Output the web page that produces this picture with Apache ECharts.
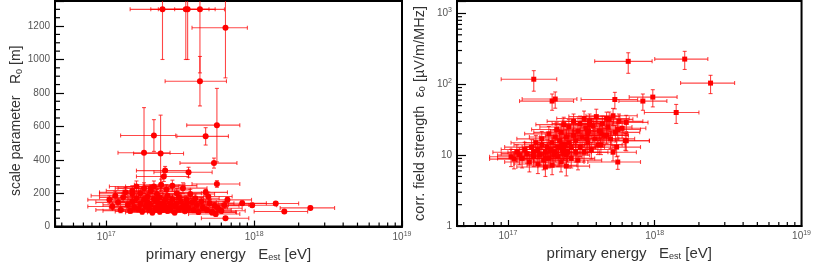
<!DOCTYPE html>
<html><head><meta charset="utf-8">
<script src="https://cdn.jsdelivr.net/npm/echarts@6/dist/echarts.min.js"></script>
<style>html,body{margin:0;padding:0;background:#fff}#c{width:814px;height:267px}</style>
</head><body><div id="c"></div><script>
// primary energy in units of 1e17 eV (same events in both panels)
const energyE17 = [2.4,3.45,3.55,4.3,6.4,4.3,5.6,4.7,2.1,1.8,2.33,5.35,2.5,3.6,5.6,6.6,9.7,8.3,14,16,24,6.4,5.2,4.7,1.5,2.0,
 1.05,1.1,1.15,1.2,1.25,1.3,1.35,1.4,1.45,1.5,1.5,1.55,1.6,1.6,1.65,1.7,1.7,1.75,1.8,1.8,1.85,1.9,1.9,1.95,2.0,2.0,2.05,
 2.1,2.1,2.15,2.2,2.2,2.25,2.3,2.3,2.35,2.4,2.4,2.45,2.5,2.5,2.55,2.6,2.6,2.7,2.7,2.8,2.8,2.9,2.9,3.0,3.0,3.1,3.1,
 3.2,3.3,3.3,3.4,3.5,3.5,3.6,3.7,3.8,3.9,4.0,4.1,4.2,4.4,4.5,4.9,4.8,5.0,5.2,5.4,5.7,6.0,6.3,5.5];
// energy uncertainty [down, up] in units of 1e17 eV
const energyErrE17 = [[0.95,1.2],[1.45,1.5],[1.3,1.9],[1.4,2.0],[2.6,2.6],[1.8,2.2],[2.1,2.4],[1.7,2.0],[0.85,0.85],[0.6,0.9],
 [0.8,1.0],[2.2,2.3],[0.9,1.1],[1.5,1.6],[1.8,2.4],[2.7,3.0],[3.0,4.5],[2.6,3.8],[5.5,6],[6,7],[9,11],[2.0,2.8],[1.7,2.3],
 [1.6,1.9],[0.6,0.65],[0.8,0.8],
 [0.3,0.45],[0.35,0.4],[0.36,0.5],[0.35,0.55],[0.4,0.5],[0.4,0.6],[0.45,0.6],[0.45,0.55],[0.5,0.65],[0.5,0.7],
 [0.45,0.6],[0.5,0.7],[0.55,0.75],[0.5,0.65],[0.55,0.7],[0.6,0.8],[0.55,0.75],[0.6,0.8],[0.6,0.8],[0.65,0.85],
 [0.6,0.8],[0.65,0.85],[0.6,0.9],[0.65,0.85],[0.7,0.9],[0.65,0.95],[0.7,0.9],[0.7,0.95],[0.75,1.0],[0.7,0.95],
 [0.75,1.0],[0.8,1.0],[0.75,1.05],[0.8,1.0],[0.8,1.1],[0.8,1.05],[0.85,1.1],[0.8,1.1],[0.85,1.15],[0.9,1.1],
 [0.85,1.2],[0.9,1.15],[0.9,1.2],[0.95,1.2],[0.95,1.2],[0.9,1.25],[1.0,1.3],[0.95,1.25],[1.0,1.3],[1.0,1.35],
 [1.05,1.4],[1.0,1.35],[1.1,1.4],[1.05,1.45],[1.1,1.5],[1.15,1.5],[1.1,1.5],[1.2,1.55],[1.2,1.6],[1.25,1.6],
 [1.25,1.65],[1.3,1.7],[1.3,1.75],[1.35,1.8],[1.4,1.8],[1.4,1.9],[1.45,1.9],[1.5,2.0],[1.55,2.1],[1.7,2.2],
 [1.65,2.2],[1.7,2.3],[1.8,2.4],[1.9,2.5],[2.0,2.6],[2.1,2.7],[2.2,2.9],[1.9,2.5]];
// scale parameter R0 [m] and its uncertainty
const r0 = [1300,1300,1300,1300,1190,870,607,540,545,442,437,380,335,325,255,160,128,140,138,90,112,50,88,205,197,230,
 160,120,185,145,100,175,205,130,95,215,150,115,240,170,105,135,200,90,160,230,120,145,180,100,210,130,85,165,240,110,
 150,195,125,90,175,250,140,105,300,160,120,220,95,185,140,110,245,165,125,85,200,140,105,175,150,120,230,95,160,135,
 110,195,145,100,170,130,88,150,115,180,100,140,85,125,110,95,130,75];
const r0Err = [300,300,300,380,300,148,220,52,95,270,230,30,25,30,20,15,12,14,12,10,10,8,10,18,15,20,
 24,19,27,22,17,26,29,21,16,30,23,19,33,25,18,21,29,16,24,32,19,22,27,17,30,21,15,25,33,18,
 23,28,20,16,26,34,22,18,30,24,19,31,16,27,22,18,33,25,20,15,29,22,18,26,23,19,32,16,24,21,
 18,28,22,17,25,21,15,23,19,27,17,22,15,20,18,16,21,14];
// corrected field strength eps0 [uV/m/MHz] and its uncertainty
const eps0 = [12,17,22,14,29,20,8,33,62,9,14,61,10,27,23,211,66,58,40,227,104,16,11,19,118,58,
 9.5,8.8,11,10,9,12,10.5,8,13,11,9.5,15,12,7.5,10,14,17,8.5,11,6.8,13,9,20,12,15,7.2,10,18,11,23,
 9.5,13,16,8,21,12,27,10.5,14,7,18,11,15,25,9,13,19,30,11,16,22,8.5,28,13,18,33,11,24,15,20,
 30,12,26,17,35,14,22,28,19,32,25,17,36,21,30,24,16,13];
const eps0Err = [3.5,4.5,5.5,3.8,7.5,5.5,1.7,7.5,16,2.2,3.5,16,2.7,6.5,5.5,68,18,15,12,65,30,4.5,2.7,4.5,38,15,
 2.6,2.4,3,2.7,2.4,3.2,2.8,2.2,3.5,3,2.6,4,3.2,2,2.7,3.8,4.6,2.3,3,1.8,3.5,2.4,5.4,3.2,4,1.9,2.7,4.9,3,6.2,
 2.6,3.5,4.3,2.2,5.7,3.2,7.3,2.8,3.8,1.9,4.9,3,4,6.8,2.4,3.5,5.1,8.1,3,4.3,5.9,2.3,7.6,3.5,4.9,8.9,3,6.5,4,5.4,
 8.1,3.2,7,4.6,9.5,3.8,5.9,7.6,5.1,8.6,6.8,4.6,9.7,5.7,8.1,6.5,4.3,3.5];
// axis minor tick values
const minorTicksEnergy = [5e16,6e16,7e16,8e16,9e16,2e17,3e17,4e17,5e17,6e17,7e17,8e17,9e17,2e18,3e18,4e18,5e18,6e18,7e18,8e18,9e18];
const minorTicksR0 = [50,100,150,250,300,350,450,500,550,650,700,750,850,900,950,1050,1100,1150,1250,1300];
const minorTicksEps = [2,3,4,5,6,7,8,9,20,30,40,50,60,70,80,90,200,300,400,500,600,700,800,900];

const RED = '#ff0000';
const BAR = 'rgba(255,0,0,0.72)';
const FONT = 'Liberation Sans';

function errData(yVals, yErr) {
  return energyE17.map((e, i) => [e * 1e17, (e - energyErrE17[i][0]) * 1e17, (e + energyErrE17[i][1]) * 1e17,
    yVals[i], yVals[i] - yErr[i], yVals[i] + yErr[i]]);
}
function ptData(yVals) { return energyE17.map((e, i) => [e * 1e17, yVals[i]]); }

function renderErr(params, api) {
  const cs = params.coordSys;
  const top = cs.y, bot = cs.y + cs.height, lft = cs.x, rgt = cs.x + cs.width;
  const x = api.value(0), xl = api.value(1), xh = api.value(2);
  const y = api.value(3), yl = api.value(4), yh = api.value(5);
  const p = api.coord([x, y]);
  const a = api.coord([xl, y])[0], b = api.coord([xh, y])[0];
  const c = api.coord([x, yl])[1], d = api.coord([x, yh])[1];
  const cap = 2;
  const st = { stroke: BAR, lineWidth: 1.1 };
  const kids = [];
  const line = (x1, y1, x2, y2) => kids.push({ type: 'line', shape: { x1, y1, x2, y2 }, style: st });
  const ca = Math.max(a, lft), cb = Math.min(b, rgt);
  line(ca, p[1], cb, p[1]);
  if (a >= lft) line(a, p[1] - cap, a, p[1] + cap);
  if (b <= rgt) line(b, p[1] - cap, b, p[1] + cap);
  const cc = Math.min(c, bot), cd = Math.max(d, top);
  line(p[0], cc, p[0], cd);
  if (c <= bot) line(p[0] - cap, c, p[0] + cap, c);
  if (d >= top) line(p[0] - cap, d, p[0] + cap, d);
  return { type: 'group', children: kids };
}
function renderMinorX(params, api) {
  const cs = params.coordSys;
  const x = api.coord([api.value(0), api.value(1)])[0];
  const yb = cs.y + cs.height;
  return { type: 'line', shape: { x1: x, y1: yb, x2: x, y2: yb - 4 }, style: { stroke: '#000', lineWidth: 1.2 } };
}
function renderMinorY(params, api) {
  const cs = params.coordSys;
  const y = api.coord([api.value(0), api.value(1)])[1];
  return { type: 'line', shape: { x1: cs.x, y1: y, x2: cs.x + 5, y2: y }, style: { stroke: '#000', lineWidth: 1.2 } };
}

function isPow10(v) { const l = Math.log10(v); return Math.abs(l - Math.round(l)) < 1e-6; }
function powLabel(v) {
  if (!isPow10(v)) return '';
  const n = Math.round(Math.log10(v));
  return '10{sup|' + n + '}';
}
const labelRich = { sup: { fontSize: 7, verticalAlign: 'top', color: '#555', fontFamily: FONT, padding: [0, 0, 6, 0] } };
const nameRich = { sub: { fontSize: 9, verticalAlign: 'bottom', color: '#333', fontFamily: FONT, padding: [6, 0, 0, 0] } };

function xAxisDef(gi) {
  return {
    type: 'log', logBase: 10, gridIndex: gi, min: 4.5e16, max: 1e19,
    name: 'primary energy   E{sub|est} [eV]', nameLocation: 'middle', nameGap: 13,
    nameTextStyle: { fontSize: 15, color: '#333', fontFamily: FONT, rich: nameRich },
    axisLine: { show: true, lineStyle: { color: '#000', width: 2 } },
    axisTick: { show: true, inside: true, length: 6, lineStyle: { color: '#000', width: 1.2 } },
    axisLabel: { formatter: powLabel, fontSize: 10, color: '#555', fontFamily: FONT, margin: 4, rich: labelRich },
    splitLine: { show: false }, minorTick: { show: false }
  };
}

const option = {
  animation: false,
  backgroundColor: '#fff',
  grid: [
    { left: 55, top: 1, width: 347, height: 226, show: true, borderColor: '#000', borderWidth: 2, backgroundColor: 'transparent' },
    { left: 457, top: 1, width: 348, height: 225, show: true, borderColor: '#000', borderWidth: 2, backgroundColor: 'transparent' }
  ],
  xAxis: [xAxisDef(0), xAxisDef(1)],
  yAxis: [
    {
      type: 'value', gridIndex: 0, min: 0, max: 1350, interval: 200,
      name: 'scale parameter   R{sub|0} [m]', nameLocation: 'middle', nameGap: 30,
      nameTextStyle: { fontSize: 14, color: '#333', fontFamily: FONT, rich: nameRich, padding: [0, 14, 0, 0] },
      axisLine: { show: true, lineStyle: { color: '#000', width: 2 } },
      axisTick: { show: true, inside: true, length: 9, lineStyle: { color: '#000', width: 1.2 } },
      axisLabel: { fontSize: 10, color: '#555', fontFamily: FONT, margin: 5,
        formatter: v => (v % 200 === 0 ? String(v) : '') },
      splitLine: { show: false }
    },
    {
      type: 'log', logBase: 10, gridIndex: 1, min: 1, max: 1500,
      name: 'corr. field strength  ε{sub|0} [µV/m/MHz]', nameLocation: 'middle', nameGap: 30,
      nameTextStyle: { fontSize: 14.5, color: '#333', fontFamily: FONT, rich: nameRich },
      axisLine: { show: true, lineStyle: { color: '#000', width: 2 } },
      axisTick: { show: true, inside: true, length: 9, lineStyle: { color: '#000', width: 1.2 } },
      axisLabel: { fontSize: 10, color: '#555', fontFamily: FONT, margin: 5, rich: labelRich,
        formatter: v => { if (!isPow10(v)) return ''; const n = Math.round(Math.log10(v)); return n === 0 ? '1' : (n === 1 ? '10' : '10{sup|' + n + '}'); } },
      splitLine: { show: false }
    }
  ],
  series: [
    { type: 'custom', xAxisIndex: 0, yAxisIndex: 0, renderItem: renderMinorX, data: minorTicksEnergy.map(v => [v, 0]), silent: true, z: 5 },
    { type: 'custom', xAxisIndex: 0, yAxisIndex: 0, renderItem: renderMinorY, data: minorTicksR0.map(v => [1e17, v]), silent: true, z: 5 },
    { type: 'custom', xAxisIndex: 1, yAxisIndex: 1, renderItem: renderMinorX, data: minorTicksEnergy.map(v => [v, 1]), silent: true, z: 5 },
    { type: 'custom', xAxisIndex: 1, yAxisIndex: 1, renderItem: renderMinorY, data: minorTicksEps.map(v => [1e17, v]), silent: true, z: 5 },
    { type: 'custom', xAxisIndex: 0, yAxisIndex: 0, renderItem: renderErr, data: errData(r0, r0Err), silent: true, z: 2 },
    { type: 'custom', xAxisIndex: 1, yAxisIndex: 1, renderItem: renderErr, data: errData(eps0, eps0Err), silent: true, z: 2 },
    { type: 'scatter', xAxisIndex: 0, yAxisIndex: 0, data: ptData(r0), symbol: 'circle', symbolSize: 6, itemStyle: { color: RED, opacity: 1 }, z: 3, clip: true },
    { type: 'scatter', xAxisIndex: 1, yAxisIndex: 1, data: ptData(eps0), symbol: 'rect', symbolSize: 5, itemStyle: { color: RED, opacity: 1 }, z: 3, clip: true }
  ]
};
const chart = echarts.init(document.getElementById('c'), null, { renderer: 'canvas' });
chart.setOption(option);
</script></body></html>
